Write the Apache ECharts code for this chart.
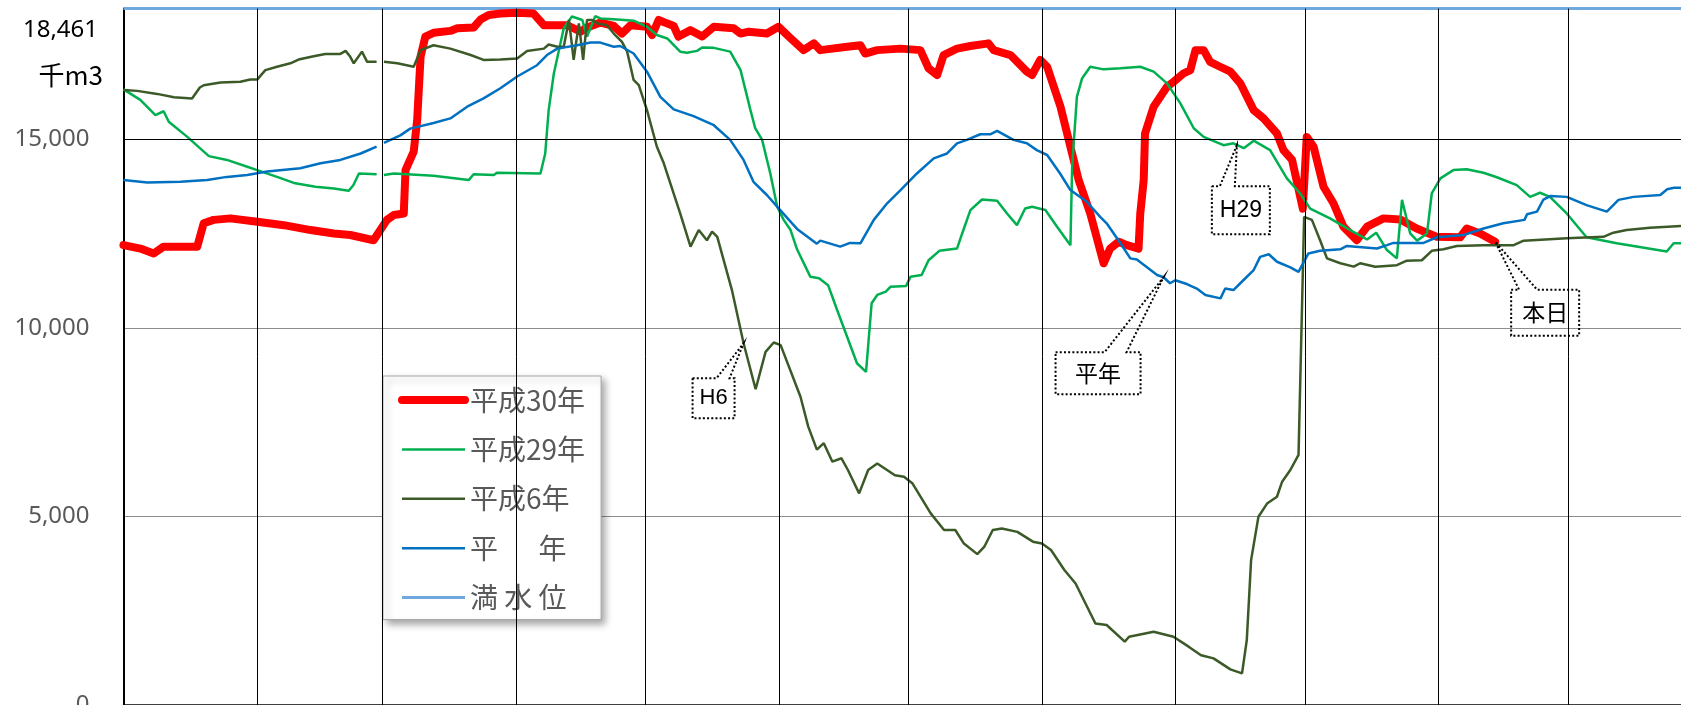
<!DOCTYPE html>
<html>
<head>
<meta charset="utf-8">
<script src="https://cdn.jsdelivr.net/npm/echarts@6/dist/echarts.min.js"></script>
<style>html,body{margin:0;padding:0;background:#fff;}#c{width:1681px;height:705px;}</style>
</head>
<body>
<div id="c"></div>
<script>
// ---- data (x = day of year incl. Feb 29 slot, y = 千m3) ----
const seriesNames = ['平成30年', '平成29年', '平成6年', '平　  年', '満 水 位'];
const fullLevel = 18461;
const yTicks = [0, 5000, 10000, 15000];
const monthStarts = [31, 60, 91, 121, 152, 182, 213, 244, 274, 305, 335];
const dayMax = 361.2;

const h30 = [[0,12190],[3.9,12100],[7,11970],[9.3,12150],[17.1,12150],[18.6,12770],[20.9,12860],[24.8,12900],[31,12810],[37.2,12720],[43.4,12590],[48.8,12500],[52.6,12460],[58,12320],[61.1,12860],[62.7,12990],[65,13030],[65.4,14180],[67.3,14670],[68.1,15500],[68.9,17190],[70,17720],[71.9,17820],[75.8,17870],[77.4,17940],[81.2,17960],[82.8,18170],[84.7,18290],[87.4,18330],[91.3,18350],[95.1,18330],[97.5,18020],[102.9,18020],[106,17850],[107.1,17940],[110.6,18090],[113.7,18000],[115.6,17800],[117.6,18020],[121.4,17980],[122.6,17760],[124.1,18160],[126,18070],[127.6,18000],[128.7,17720],[131.5,17890],[134.2,17720],[136.9,17980],[141.5,17940],[143.1,17800],[145,17850],[149.2,17800],[151.9,17980],[154.3,17720],[157.7,17360],[160.1,17540],[161.6,17360],[167.8,17450],[170.9,17490],[172,17270],[174.8,17360],[180.2,17400],[184.8,17360],[186.7,16880],[188.7,16700],[190.2,17230],[193.3,17400],[196.4,17470],[200.6,17540],[201.8,17360],[205.7,17230],[209.5,16790],[210.7,16700],[212.6,17100],[214.2,16920],[217.3,15860],[221.5,13920],[224.2,13030],[227.3,11710],[228.8,12100],[230.8,12280],[232.7,12190],[235.4,12100],[235.8,13030],[236.6,13920],[236.9,15150],[238.9,15860],[242,16390],[243.5,16520],[245.8,16740],[247.4,16830],[248.6,17360],[250.5,17360],[252,17050],[254.3,16920],[256.7,16790],[259,16480],[262.1,15770],[264.4,15550],[267.5,15150],[269,14710],[271,14450],[273.5,13160],[274.4,15060],[276,14800],[278.3,13740],[280.6,13300],[282.9,12680],[286,12320],[288.4,12680],[292.2,12900],[296.1,12870],[299.9,12630],[304.6,12410],[310,12400],[311.5,12630],[314.6,12500],[318.1,12280]];

const h29 = [[0,16320],[3.9,16040],[7.4,15640],[9.3,15740],[10.5,15460],[14.8,15060],[19.8,14550],[24,14450],[28.7,14270],[31,14180],[35.6,14000],[39.5,13840],[44.5,13740],[48.8,13690],[52.2,13630],[53.3,13780],[54.6,14090],[58.7,14070],[59.5,'-'],[60.4,14050],[62.7,14090],[71.9,14030],[80.1,13920],[81.2,14070],[85.9,14050],[86.6,14110],[96.7,14090],[97.8,14620],[98.6,15770],[99.8,16740],[102.1,17940],[104,18250],[106.4,18160],[107.5,17720],[109.4,18260],[110.6,18200],[114.5,18170],[118.3,18140],[121.4,17980],[123.7,17760],[126.1,17670],[129.1,17320],[130.7,17290],[133,17340],[134.2,17430],[136.9,17420],[140.7,17320],[143.1,16830],[145.4,15770],[146.5,15290],[148.1,14980],[150,14090],[151.6,13210],[153.1,12860],[154.7,12590],[156.2,12080],[159.3,11350],[161.3,11310],[163.4,11130],[165.5,10470],[170.1,9060],[172.2,8830],[173.5,10650],[174.8,10870],[176.8,10960],[177.9,11090],[181.5,11110],[182.5,11350],[185.1,11400],[186.7,11790],[189.2,12040],[193.3,12100],[194.5,12500],[196.4,13120],[199.1,13400],[202.6,13370],[204.9,13030],[207.2,12720],[209.1,13160],[210.7,13210],[213.8,13120],[216.5,12680],[219.6,12190],[220,14270],[221.1,16120],[222.3,16610],[224.2,16920],[227.3,16850],[231.2,16880],[235.8,16920],[238.9,16790],[242,16480],[245.1,15950],[248.2,15290],[250.5,15060],[255.1,14840],[257.4,14890],[259.8,14760],[262.1,14960],[265.9,14710],[269.8,13960],[272.9,13560],[275.2,13160],[279.8,12900],[284.5,12590],[288.4,12340],[290.5,12520],[293,12060],[295.3,11840],[296.5,13390],[298.4,12500],[300,12310],[302.3,12500],[303.4,13560],[305.4,13960],[308.4,14180],[311.5,14200],[315.4,14110],[318.5,13990],[323.1,13780],[326.2,13470],[328.5,13580],[330.8,13470],[334.7,13030],[339.3,12400],[346.3,12240],[357.9,12020],[359.5,12240],[361.2,12240]];

const h6 = [[0,16300],[3.2,16280],[7.8,16200],[11.7,16110],[15.9,16080],[17.7,16370],[18.6,16430],[22.5,16500],[27.1,16520],[29.4,16580],[31,16580],[32.9,16830],[35.6,16920],[38.7,17010],[40.6,17110],[44.1,17200],[46.8,17260],[50.3,17260],[51.5,17340],[52.5,17200],[53.4,17010],[55.3,17320],[56.5,17050],[58.7,17050],[59.5,'-'],[60.4,17050],[63.5,17010],[67.3,16920],[68.9,17360],[71.9,17490],[75.8,17400],[80.5,17230],[83.5,17100],[87.4,17110],[91.3,17140],[93.6,17340],[97.5,17400],[98.6,17510],[100.6,17450],[102.1,17450],[103.3,18160],[104.4,17100],[105.6,18070],[106.6,17100],[107.5,18160],[108.7,18160],[109.8,18070],[112.1,18020],[113.7,17800],[115.6,17580],[116.8,17320],[118.3,16570],[119.5,16430],[121.4,15770],[123.7,14800],[125.3,14360],[129.1,13030],[131.5,12150],[133.4,12590],[135.3,12320],[136.5,12550],[137.7,12410],[141.1,11000],[143.8,9590],[146.6,8370],[148.9,9360],[150.8,9610],[152.4,9540],[157,8170],[158.8,7380],[160.8,6770],[162.4,6940],[164.4,6450],[166.5,6540],[168,6230],[170.6,5610],[172.7,6230],[174.8,6400],[178.9,6090],[181,6050],[183,5870],[187.2,5080],[190.3,4640],[192.9,4640],[194.9,4280],[198,4000],[199.6,4190],[201.6,4640],[203.7,4680],[207.3,4590],[210.9,4330],[213,4280],[215.1,4110],[218.2,3580],[220.8,3220],[225.4,2160],[228,2120],[232.2,1680],[233.2,1810],[238.9,1940],[243.5,1810],[247.1,1540],[249.9,1320],[252.8,1235],[256.7,944],[259.4,838],[260.5,1720],[261.5,3840],[263.2,4990],[265.2,5340],[267.5,5520],[268.7,5920],[270.6,6230],[272.5,6630],[273.8,12940],[275.6,12860],[277.5,12320],[279.1,11840],[282.2,11710],[285.3,11620],[286.8,11710],[290.3,11620],[295.3,11660],[297.6,11780],[301.1,11790],[303.4,12040],[306.1,12080],[309.2,12170],[315.4,12190],[322.4,12190],[324.7,12310],[334.7,12370],[343.2,12410],[345.5,12520],[348.6,12590],[354,12650],[361.2,12700]];

const heinen = [[0,13920],[5.5,13850],[13.2,13870],[19.4,13920],[24,14000],[28.7,14050],[33.3,14140],[41,14230],[45.7,14360],[50.3,14450],[55,14620],[58.7,14800],[59.5,'-'],[60.4,14900],[64.2,15100],[66.5,15280],[71.9,15430],[75.8,15550],[79.7,15860],[83.5,16080],[87.4,16350],[91.3,16660],[95.9,16960],[98.2,17230],[100.6,17400],[105.2,17490],[108.3,17560],[110.6,17560],[113.7,17450],[115.2,17470],[118.3,17270],[121.4,16790],[124.5,16120],[127.6,15790],[132.2,15610],[136.9,15370],[140.7,14980],[143.8,14450],[146.1,13870],[149.2,13520],[152.3,13120],[156.2,12620],[160.8,12230],[161.6,12310],[166.2,12150],[168.5,12250],[170.9,12240],[174,12860],[177.1,13300],[180.2,13650],[184,14090],[187.9,14490],[191,14620],[193.3,14890],[195.6,14980],[198.7,15130],[201,15130],[202.6,15220],[206.4,14980],[209.5,14890],[211.8,14710],[214.2,14580],[217.2,14090],[219.6,13650],[223.4,13340],[226.5,12940],[228,12770],[231.2,12240],[233.5,11840],[235,11810],[239.7,11400],[241.2,11340],[242.7,11180],[243.9,11260],[246.6,11160],[248.9,11040],[250.9,10870],[254.4,10780],[255.5,11040],[257.4,11000],[259.7,11260],[262.1,11530],[263.6,11880],[265.6,11950],[267.5,11750],[270.6,11600],[272.5,11480],[274.8,11970],[277.5,12040],[282.2,12080],[283.7,12170],[290.7,12100],[293,12190],[294.5,12250],[301.5,12250],[304.6,12400],[310.8,12460],[315.4,12630],[320,12770],[324.9,12860],[325.5,13010],[327.8,13080],[329.3,13400],[330.9,13490],[334.7,13470],[339.3,13250],[344,13080],[346.7,13390],[350.2,13470],[356.4,13520],[358,13670],[359.6,13710],[361.2,13710]];

const fullLine = [[0, fullLevel], [dayMax, fullLevel]];

const callouts = [
  {text: 'H6',  day: 143.8, value: 9590},
  {text: '平年', day: 241.2, value: 11340},
  {text: 'H29', day: 258.2, value: 14840},
  {text: '本日', day: 318.1, value: 12280}
];

// ---- chart ----
const chart = echarts.init(document.getElementById('c'), null, {renderer: 'canvas'});
const fmt = v => String(v).replace(/\B(?=(\d{3})+(?!\d))/g, ',');

const monthLines = monthStarts.map(d => ({xAxis: d}));

chart.setOption({
  animation: false,
  backgroundColor: '#ffffff',
  grid: {left: 123.5, right: 0, top: 8.6, bottom: 0, containLabel: false, outerBoundsMode: 'none'},
  xAxis: {
    type: 'value', min: 0, max: dayMax,
    axisLine: {show: true, onZero: false, lineStyle: {color: '#000', width: 1.5}},
    axisTick: {show: false}, axisLabel: {show: false}, splitLine: {show: false}
  },
  yAxis: {
    type: 'value', min: 0, max: fullLevel, interval: 5000,
    axisLine: {show: true, lineStyle: {color: '#000', width: 2}},
    axisTick: {show: false},
    axisLabel: {
      margin: 34, color: '#595959', fontSize: 24, fontFamily: 'Noto Sans',
      hideOverlap: false,
      formatter: v => (yTicks.indexOf(v) >= 0 ? fmt(v) : '')
    },
    splitLine: {show: true, lineStyle: {color: '#8c8c8c', width: 1}}
  },
  legend: {
    orient: 'vertical', left: 383, top: 376,
    padding: [10, 16, 8, 15],
    itemWidth: 63, itemHeight: 14, itemGap: 21.4,
    backgroundColor: '#ffffff', borderColor: '#a6a6a6', borderWidth: 1,
    shadowColor: 'rgba(0,0,0,0.35)', shadowBlur: 7, shadowOffsetX: 4, shadowOffsetY: 4,
    lineStyle: {width: 'inherit'},
    itemStyle: {opacity: 0, color: 'transparent', borderColor: 'transparent', borderWidth: 0},
    textStyle: {fontSize: 28, lineHeight: 28, color: '#595959', fontFamily: 'Noto Sans CJK JP'},
    data: seriesNames
  },
  series: [
    {name: seriesNames[0], type: 'line', data: h30, symbol: 'none', z: 3,
     lineStyle: {color: '#ff0000', width: 8, cap: 'round', join: 'round'}, itemStyle: {color: '#ff0000'}},
    {name: seriesNames[1], type: 'line', data: h29, symbol: 'none', z: 4,
     lineStyle: {color: '#00b050', width: 2.5}, itemStyle: {color: '#00b050'}},
    {name: seriesNames[2], type: 'line', data: h6, symbol: 'none', z: 4,
     lineStyle: {color: '#3b5a28', width: 2.5}, itemStyle: {color: '#3b5a28'}},
    {name: seriesNames[3], type: 'line', data: heinen, symbol: 'none', z: 4,
     lineStyle: {color: '#0070c0', width: 2.5}, itemStyle: {color: '#0070c0'}},
    {name: seriesNames[4], type: 'line', data: fullLine, symbol: 'none', z: 2,
     lineStyle: {color: '#6fa8dc', width: 3}, itemStyle: {color: '#6fa8dc'},
     markLine: {
       silent: true, symbol: ['none', 'none'], label: {show: false}, animation: false,
       data: monthLines.map(m => Object.assign({}, m, {lineStyle: {color: '#000', width: 1, type: 'solid'}}))
         .concat([{yAxis: 15000, lineStyle: {color: '#000', width: 1.2, type: 'solid'}}])
     }}
  ]
});

// ---- annotations (anchored through the chart's own scales) ----
const boxes = {
  'H6':  {x0: -51, y0: 35, x1: -9, y1: 75, b1: -27, b2: -14, size: 22, font: 'Liberation Sans'},
  '平年': {x0: -108, y0: 75, x1: -23, y1: 117, b1: -59, b2: -37, size: 23, font: 'Noto Sans CJK JP'},
  'H29': {x0: -25, y0: 41, x1: 33, y1: 89, b1: -17, b2: -2, size: 23, font: 'Liberation Sans'},
  '本日': {x0: 16, y0: 48, x1: 84, y1: 94, b1: 24, b2: 42, size: 23, font: 'Noto Sans CJK JP'}
};
const graphics = [
  {type: 'text', right: 1681 - 98, top: 18, style: {text: '18,461', fill: '#000', font: '24px "Noto Sans"'}, z: 10},
  {type: 'text', right: 1681 - 103, top: 62, style: {text: '千m3', fill: '#000', font: '26px "Noto Sans CJK JP"'}, z: 10}
];
callouts.forEach(c => {
  const p = chart.convertToPixel({xAxisIndex: 0, yAxisIndex: 0}, [c.day, c.value]);
  const b = boxes[c.text];
  const ax = p[0], ay = p[1];
  const X0 = ax + b.x0, Y0 = ay + b.y0, X1 = ax + b.x1, Y1 = ay + b.y1;
  graphics.push({
    type: 'polyline', z: 20, silent: true,
    shape: {points: [[X0, Y0], [ax + b.b1, Y0], [ax, ay], [ax + b.b2, Y0], [X1, Y0], [X1, Y1], [X0, Y1], [X0, Y0]]},
    style: {stroke: '#000', lineWidth: 2, lineDash: [2, 2.2], fill: null}
  });
  graphics.push({
    type: 'text', z: 21, silent: true,
    x: (X0 + X1) / 2, y: (Y0 + Y1) / 2,
    style: {text: c.text, fill: '#000', font: b.size + 'px "' + b.font + '"', align: 'center', verticalAlign: 'middle'}
  });
});
chart.setOption({graphic: graphics});
</script>
</body>
</html>
